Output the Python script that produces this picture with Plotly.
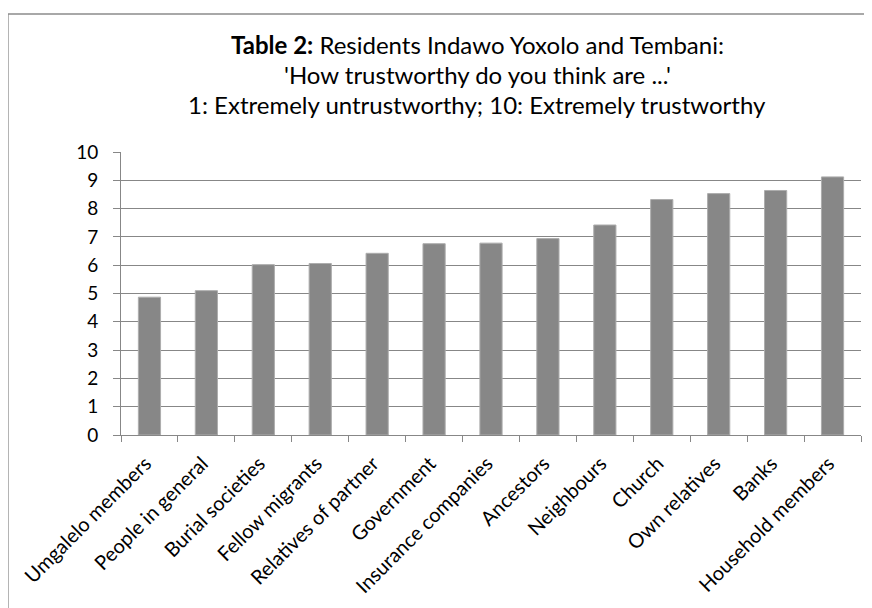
import plotly.graph_objects as go

categories = ["Umgalelo members", "People in general", "Burial societies", "Fellow migrants",
              "Relatives of partner", "Government", "Insurance companies", "Ancestors",
              "Neighbours", "Church", "Own relatives", "Banks", "Household members"]
values = [4.87, 5.10, 6.02, 6.06, 6.42, 6.76, 6.78, 6.94, 7.42, 8.32, 8.53, 8.64, 9.12]
y_ticks = list(range(0, 11))
title_lines = ["<b>Table 2:</b> Residents Indawo Yoxolo and Tembani:",
               "'How trustworthy do you think are ...'",
               "1: Extremely untrustworthy; 10: Extremely trustworthy"]

OFF = 8  # page body margin
W, H = 872 - OFF, 608 - OFF
L, T = 121 - OFF, 152 - OFF
pw, ph = 740, 285
R = W - L - pw
B = H - T - ph

FONT = "Lato"
GRAY = "#878787"

fig = go.Figure(go.Bar(
    x=categories, y=values,
    marker=dict(color=GRAY, line=dict(color="#adadad", width=1)),
    width=0.39,
))

def px_x(p):  # page pixel -> paper
    return (p - OFF - L) / pw

def px_y(p):
    return (T + ph - (p - OFF)) / ph

annotations = []
baselines = [52, 82, 112]
for line, base in zip(title_lines, baselines):
    annotations.append(dict(
        xref="paper", yref="paper", x=px_x(477), y=px_y(base - 8),
        xanchor="center", yanchor="middle", showarrow=False,
        text=line, font=dict(family=FONT, size=24, color="#000000"),
    ))

fig.update_layout(
    width=W, height=H,
    margin=dict(l=L, r=R, t=T, b=B, pad=0),
    paper_bgcolor="white", plot_bgcolor="white",
    showlegend=False,
    font=dict(family=FONT, color="#000000"),
    xaxis=dict(
        type="category", tickson="boundaries", ticks="outside", ticklen=6,
        tickcolor=GRAY, tickwidth=1, showline=True, linecolor=GRAY, linewidth=1,
        showgrid=False, tickangle=-45, ticklabelstandoff=8, ticklabelshift=-4,
        tickfont=dict(family=FONT, size=20),
        range=[-0.5, len(categories) - 0.5],
    ),
    yaxis=dict(
        range=[0, 10], tickvals=y_ticks, ticks="outside", ticklen=7,
        tickcolor=GRAY, tickwidth=1, showline=True, linecolor=GRAY, linewidth=1,
        showgrid=True, gridcolor=GRAY, gridwidth=1.3, zeroline=False,
        ticklabelstandoff=11,
        tickfont=dict(family=FONT, size=19),
    ),
    shapes=[dict(
        type="rect", xref="paper", yref="paper",
        x0=px_x(8), x1=px_x(900), y0=px_y(640), y1=px_y(13),
        line=dict(color="#8c8c8c", width=1.3), fillcolor="rgba(0,0,0,0)", layer="below",
    )],
    annotations=annotations,
)

fig.write_html("out.html")
